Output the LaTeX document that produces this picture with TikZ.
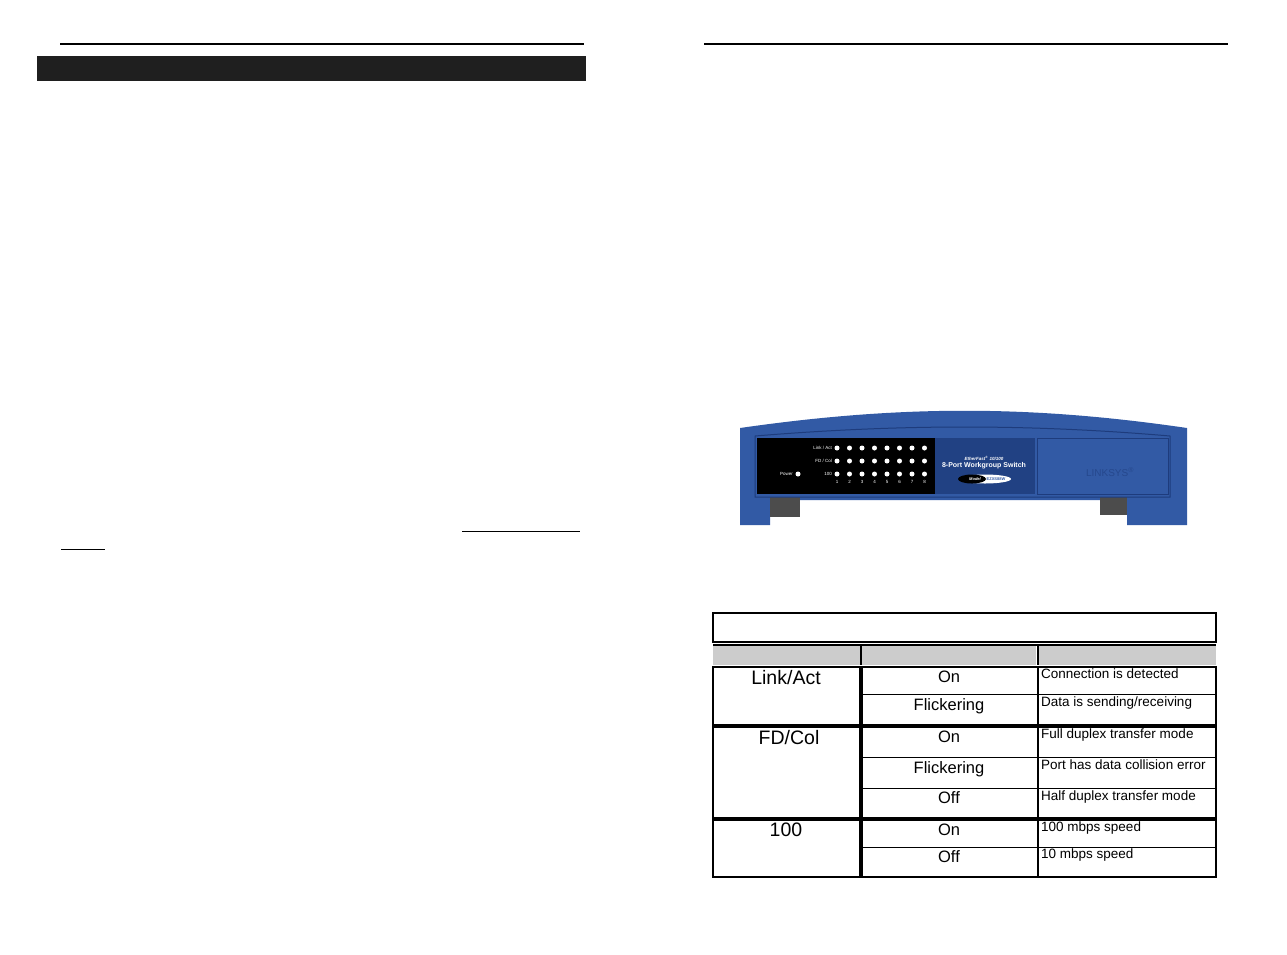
\documentclass[tikz,border=0pt]{standalone}
\usepackage{fontspec}
\setmainfont{Liberation Sans}
\begin{document}
\begin{tikzpicture}[x=1pt,y=-1pt,
  cell/.style={draw=black,line width=2.5pt},
  big/.style={font=\fontsize{19.5}{20}\selectfont,anchor=north,inner sep=1pt},
  mid/.style={font=\fontsize{16.5}{17}\selectfont,anchor=north,inner sep=1pt},
  small/.style={font=\fontsize{13.5}{14}\selectfont,anchor=north west,inner sep=1pt},
  led/.style={circle,fill=white,inner sep=0pt,minimum size=5pt},
  tiny/.style={font=\fontsize{4.5}{5}\selectfont,text=white,inner sep=0pt}]
\useasboundingbox (0,0) rectangle (1287,954);
% page header lines
\draw[line width=1.3pt] (60,44) -- (584,44);
\draw[line width=1.3pt] (704,44) -- (1228,44);
\fill[black!88] (37,56) rectangle (586,81);
\draw[line width=0.8pt] (462,531) -- (580,531);
\draw[line width=0.8pt] (61,549) -- (105,549);
% switch
\definecolor{swblue}{RGB}{50,90,165}
\definecolor{swdark}{RGB}{30,60,125}
\fill[swblue] (740,428) .. controls (900,405) and (1030,405) .. (1187,428) -- (1187,525) -- (1127,525) -- (1127,500) -- (770,500) -- (770,525) -- (740,525) -- cycle;
\fill[gray!60!black] (770,497) rectangle (800,517);
\fill[gray!60!black] (1100,497) rectangle (1127,515);
\draw[swdark,line width=1pt] (755,436) .. controls (900,424) and (1030,424) .. (1170,436) -- (1170,497) -- (755,497) -- cycle;
\fill[black] (757,438) rectangle (935,494);
\fill[swdark!85!swblue] (935,438) rectangle (1035,494);
\draw[swdark] (1037,438) rectangle (1168,494);
\node[tiny,anchor=east] (la) at (832,448) {Link / Act};
\node[tiny,anchor=east] (lf) at (832,461) {FD / Col};
\node[tiny,anchor=east] (lh) at (832,474) {100};
\node[tiny,anchor=east] (pw) at (793,474) {Power};
\node[led] (pl) at (798,474) {};
\foreach \i [count=\n] in {837,849.5,862,874.5,887,899.5,912,924.5}{
  \node[led] at (\i,448) {};
  \node[led] at (\i,461) {};
  \node[led] at (\i,474) {};
  \node[tiny] at (\i,481.5) {\n};
}
\node[tiny,font=\fontsize{4.5}{5}\selectfont\itshape\bfseries] (ef) at (984,458) {EtherFast\textsuperscript{®} 10/100};
\node[tiny,font=\fontsize{7}{7}\selectfont\bfseries] (ps) at (984,465.5) {8-Port Workgroup Switch};
\fill[white] (985,479) ellipse (26pt and 4.5pt);
\fill[black] (972,479) ellipse (14pt and 4.5pt);
\node[tiny,font=\fontsize{4}{4}\selectfont\itshape\bfseries] (md) at (975,479) {Model};
\node[tiny,text=swblue,font=\fontsize{4}{4}\selectfont\bfseries] (mn) at (996,479) {EZXS88W};
\node[text=swdark!60!swblue,font=\fontsize{10}{10}\selectfont] (lk) at (1110,472) {LINKSYS\textsuperscript{®}};
% table
\draw[cell] (713,613) rectangle (1216,642);
\fill[gray!40] (713,645) rectangle (860,665);
\fill[gray!40] (862,645) rectangle (1036,665);
\fill[gray!40] (1039,645) rectangle (1216,665);
\draw[line width=1.2pt] (713,645) -- (1216,645);
\draw[line width=2pt] (861,644) -- (861,665) (1037.5,644) -- (1037.5,665);
% column 1 cells
\draw[line width=1.4pt] (713,667) rectangle (860,725);
\draw[line width=1.4pt] (713,727) rectangle (860,818);
\draw[line width=1.4pt] (713,820) rectangle (860,877);
\node[big] (c1a) at (786,669) {Link/Act};
\node[big] (c1b) at (789,729) {FD/Col};
\node[big] (c1c) at (786,822) {100};
% column 2/3
\draw[line width=2pt] (862,667) rectangle (1216,725);
\draw[line width=2pt] (862,727) rectangle (1216,818);
\draw[line width=2pt] (862,820) rectangle (1216,877);
\draw[line width=2pt] (1037.5,667) -- (1037.5,877);
\draw[line width=1pt] (862,694) -- (1216,694) (862,757) -- (1216,757) (862,788) -- (1216,788) (862,847) -- (1216,847);
\node[mid] (o1) at (949,669.5) {On};
\node[mid] (f1) at (949,697.5) {Flickering};
\node[mid] (o2) at (949,729.5) {On};
\node[mid] (f2) at (949,760.5) {Flickering};
\node[mid] (x2) at (949,790.5) {Off};
\node[mid] (o3) at (949,822.5) {On};
\node[mid] (x3) at (949,849.5) {Off};
\node[small] (d1) at (1040,668) {Connection is detected};
\node[small] (d2) at (1040,696) {Data is sending/receiving};
\node[small] (d3) at (1040,728) {Full duplex transfer mode};
\node[small] (d4) at (1040,759) {Port has data collision error};
\node[small] (d5) at (1040,790) {Half duplex transfer mode};
\node[small] (d6) at (1040,821) {100 mbps speed};
\node[small] (d7) at (1040,848) {10 mbps speed};
\end{tikzpicture}
\end{document}
